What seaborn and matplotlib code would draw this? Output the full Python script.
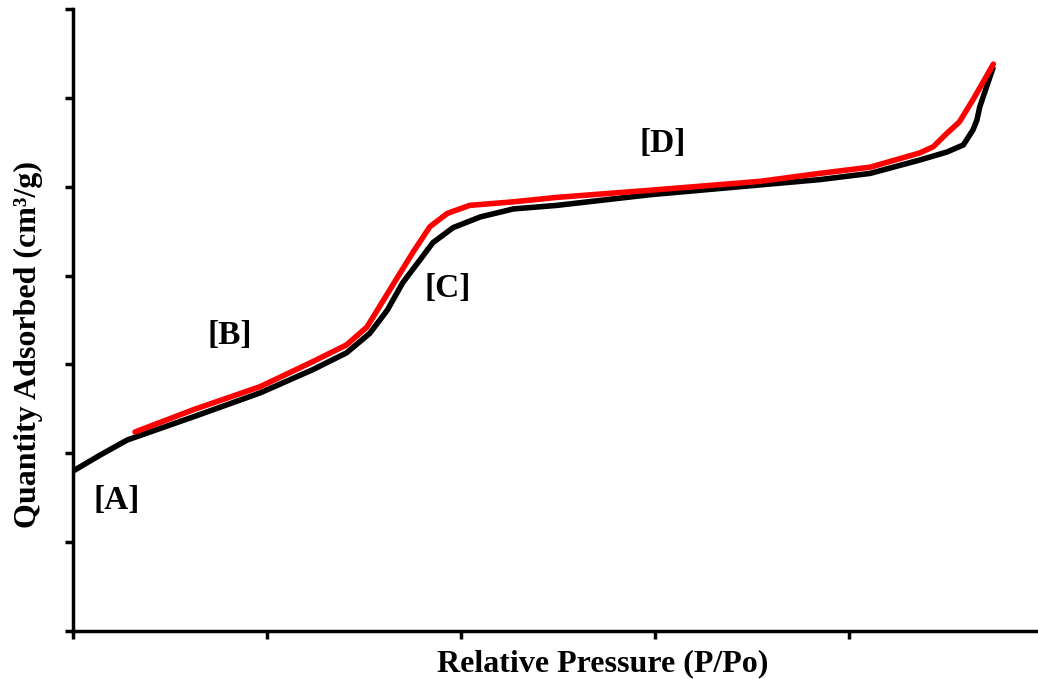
import pandas as pd
import matplotlib.pyplot as plt
import seaborn as sns

# isotherm curves (arbitrary y units, 100 per tick)
black_x = [0.0, 0.028, 0.056, 0.124, 0.193, 0.247, 0.282, 0.306, 0.324, 0.340, 0.358, 0.371,
           0.392, 0.420, 0.454, 0.499, 0.595, 0.708, 0.770, 0.822, 0.873, 0.901, 0.918,
           0.928, 0.932, 0.935, 0.949]
black_y = [180, 198, 215, 241, 268, 294, 313, 335, 361, 392, 418, 437,
           454, 466, 475, 479, 491, 502, 508, 515, 530, 539, 547,
           564, 575, 590, 635]
red_x = [0.064, 0.124, 0.193, 0.247, 0.282, 0.303, 0.316, 0.334, 0.351, 0.368, 0.386,
         0.409, 0.454, 0.499, 0.595, 0.708, 0.770, 0.822, 0.873, 0.887, 0.901, 0.914,
         0.928, 0.949]
red_y = [224, 249, 275, 303, 322, 342, 365, 397, 427, 455, 470,
         479, 483, 488, 496, 506, 515, 522, 538, 545, 560, 573,
         598, 638]

region_labels = ['[A]', '[B]', '[C]', '[D]']
region_x = [0.045, 0.162, 0.386, 0.608]
region_y = [147, 333, 386, 549]

sns.set_theme(style="ticks")
plt.rcParams['font.family'] = ['Liberation Serif', 'DejaVu Serif']
plt.rcParams['text.color'] = 'black'
plt.rcParams['axes.labelcolor'] = 'black'

df_black = pd.DataFrame({'x': black_x, 'y': black_y})
df_red = pd.DataFrame({'x': red_x, 'y': red_y})

fig = plt.figure(figsize=(10.38, 6.79), dpi=100)
ax = fig.add_axes([73/1038, 48/679, 965/1038, 622/679])
sns.lineplot(data=df_black, x='x', y='y', sort=False, color='black', linewidth=4, ax=ax,
             solid_capstyle='butt', solid_joinstyle='round')
sns.lineplot(data=df_red, x='x', y='y', sort=False, color='#ff0000', linewidth=4, ax=ax,
             solid_capstyle='round', solid_joinstyle='round')

for lab, lx, ly in zip(region_labels, region_x, region_y):
    ax.text(lx, ly, lab, ha='center', va='center', fontsize=24, fontweight='bold', color='black')

ax.set_xlim(0, 0.995)
ax.set_ylim(0, 700)
ax.set_xticks([0, 0.2, 0.4, 0.6, 0.8])
ax.set_yticks(range(0, 701, 100))
ax.set_xticklabels([])
ax.set_yticklabels([])
ax.tick_params(length=6, width=2.5, color='black')
for s in ['top', 'right']:
    ax.spines[s].set_visible(False)
for s in ['left', 'bottom']:
    ax.spines[s].set_linewidth(2.5)
    ax.spines[s].set_color('black')

ax.set_xlabel('Relative Pressure (P/Po)', fontsize=23, fontweight='bold')
ax.set_ylabel('Quantity Adsorbed (cm³/g)', fontsize=23, fontweight='bold')
ax.xaxis.set_label_coords(0.549, -0.03)
ax.yaxis.set_label_coords(-0.031, 0.461)

fig.savefig('out.png', dpi=100)
